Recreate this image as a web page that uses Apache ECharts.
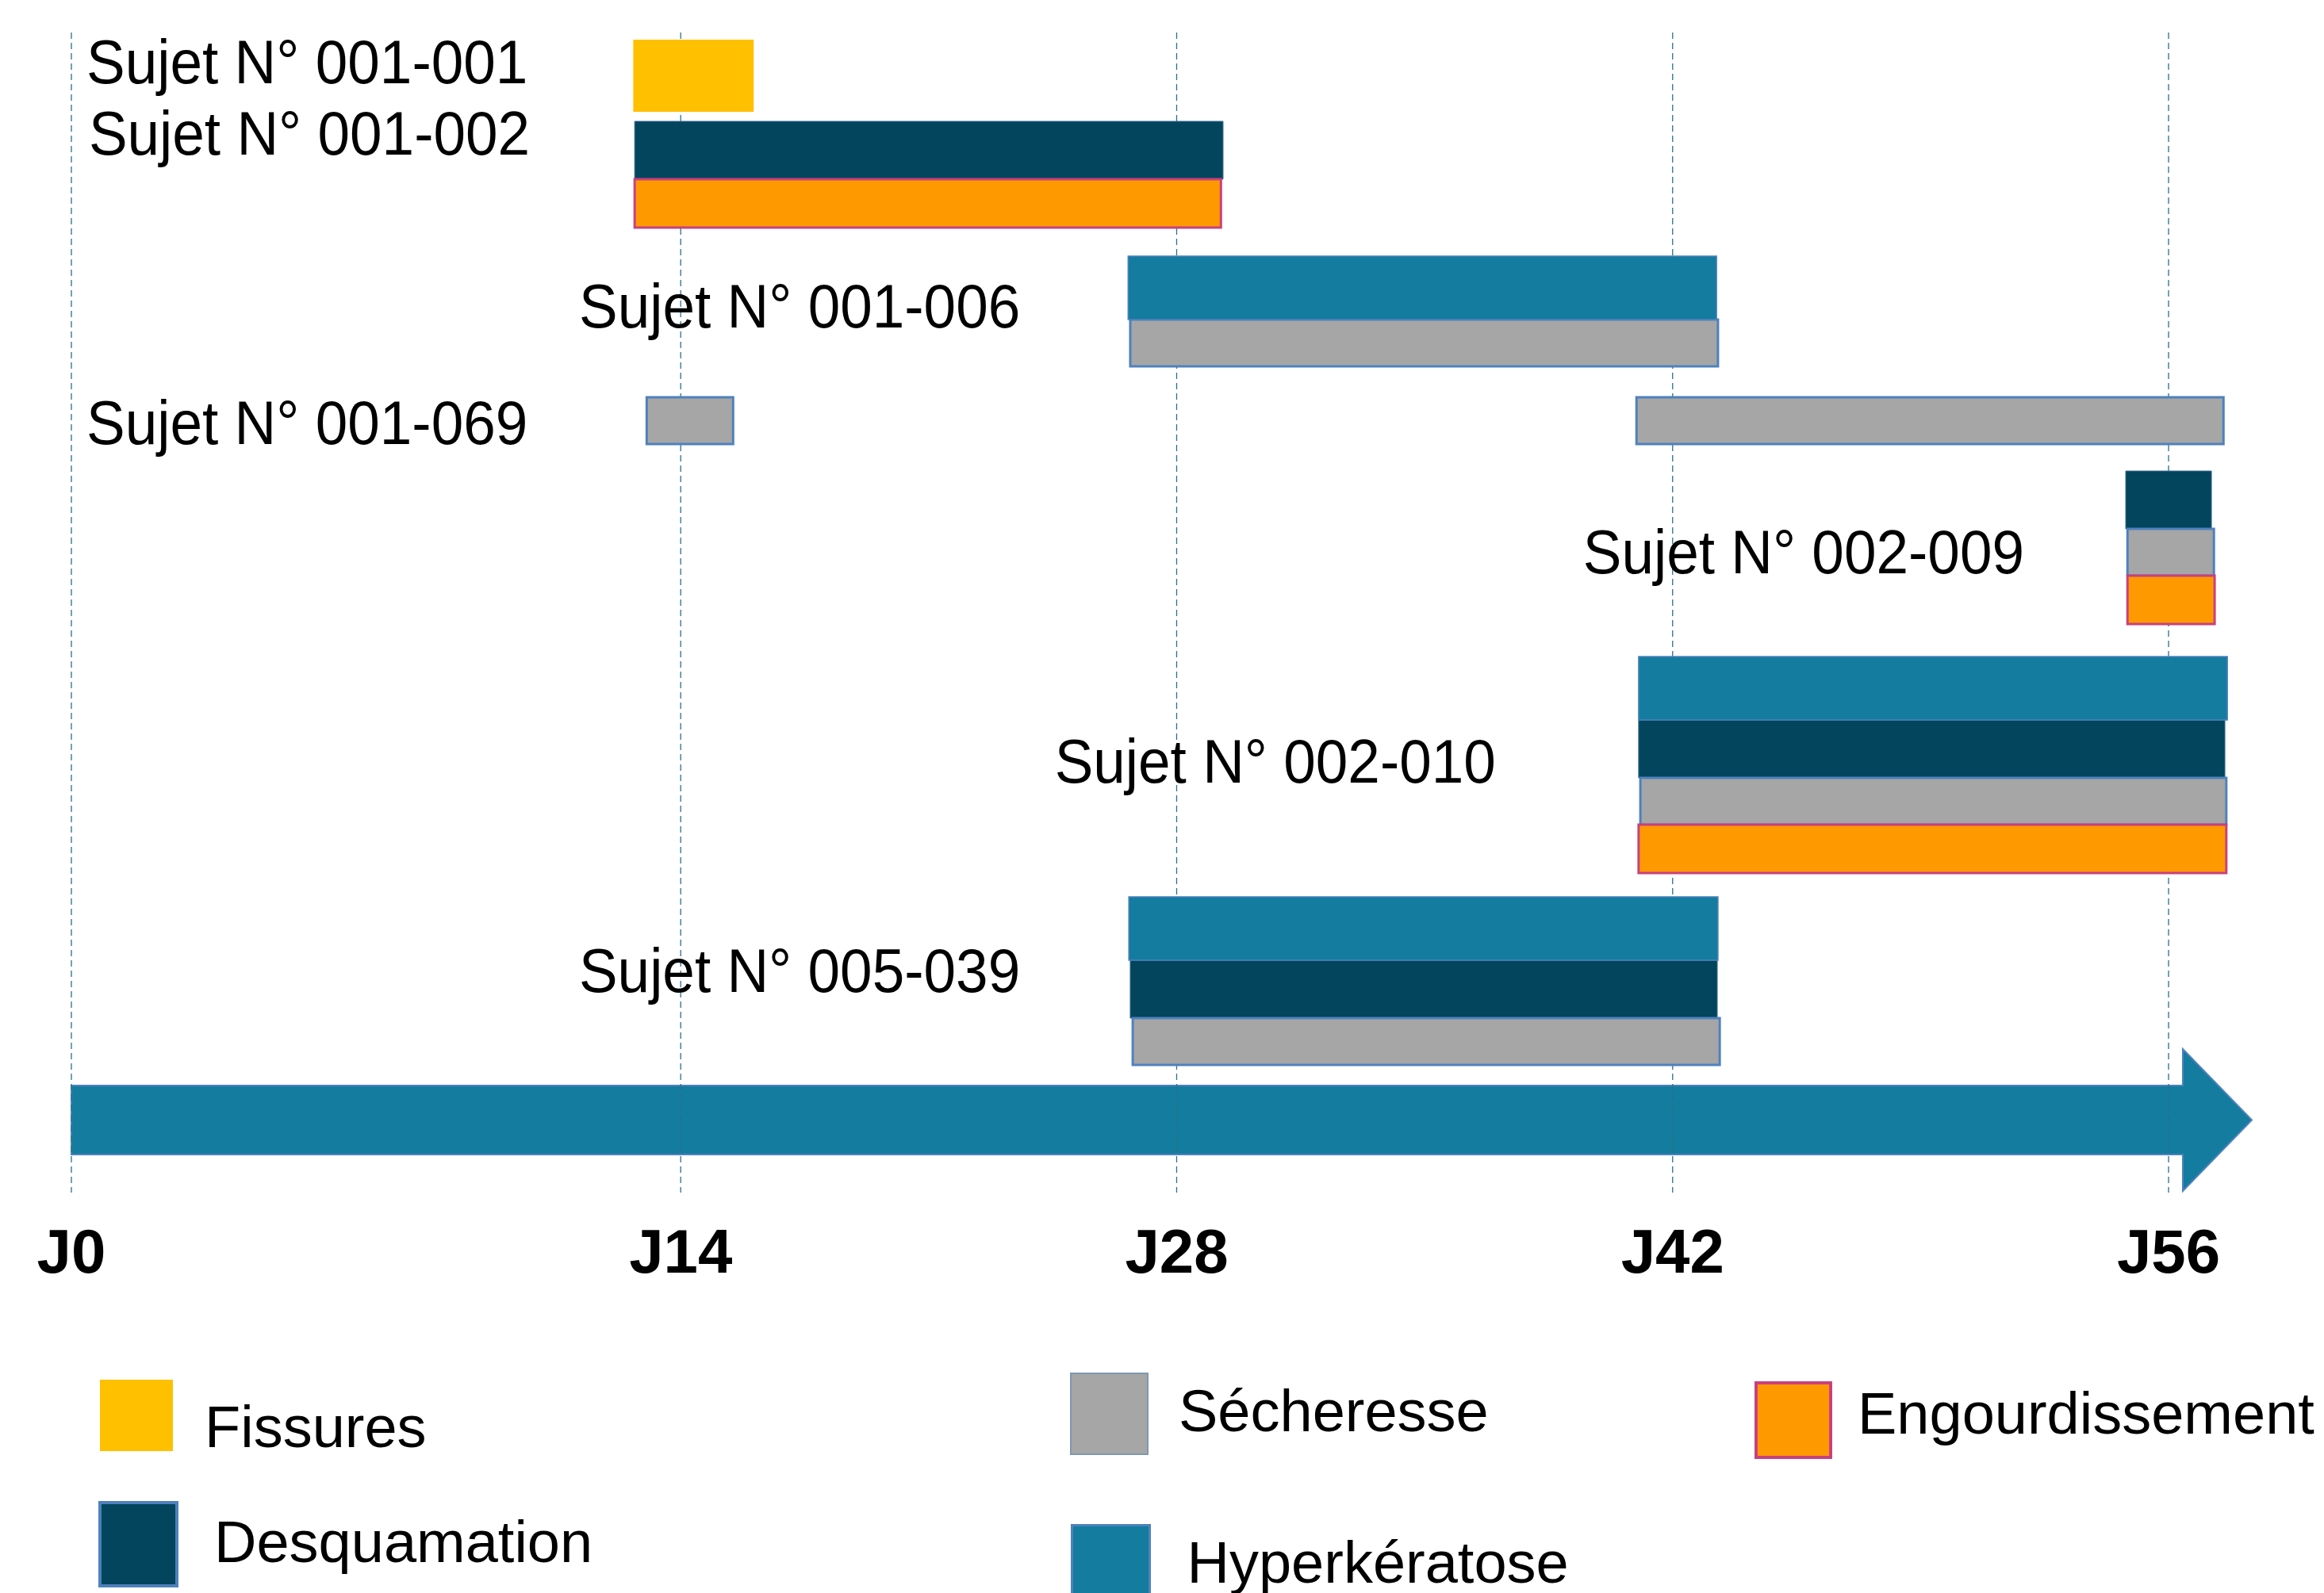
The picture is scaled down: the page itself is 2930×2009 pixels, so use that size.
<!DOCTYPE html>
<html><head><meta charset="utf-8">
<script src="https://cdn.jsdelivr.net/npm/echarts@6/dist/echarts.min.js"></script>
<style>html,body{margin:0;padding:0;background:#fff}#c{width:2930px;height:2009px}</style>
</head><body><div id="c"></div>
<script>
// ---------- DATA ----------
const tickLabels = ['J0', 'J14', 'J28', 'J42', 'J56'];
// position of each tick on the day axis (the reference draws the J0–J14 stretch wider than the others)
const tickValues = [-3.2, 14, 28, 42, 56];
const axisEnd = 58.35; // arrow tip, in days

const symptoms = ['Fissures', 'Desquamation', 'Sécheresse', 'Hyperkératose', 'Engourdissement'];
const subjects = ['Sujet N° 001-001', 'Sujet N° 001-002', 'Sujet N° 001-006', 'Sujet N° 001-069',
                  'Sujet N° 002-009', 'Sujet N° 002-010', 'Sujet N° 005-039'];

// episodes per subject: [symptom, row in subject block, start day, end day]
const sujet001_001 = [['Fissures', 0, 12.66, 16.06]];
const sujet001_002 = [['Desquamation', 0, 12.70, 29.31], ['Engourdissement', 1, 12.70, 29.25]];
const sujet001_006 = [['Hyperkératose', 0, 26.63, 43.24], ['Sécheresse', 1, 26.69, 43.28]];
const sujet001_069 = [['Sécheresse', 0, 13.04, 15.48], ['Sécheresse', 0, 40.98, 57.55]];
const sujet002_009 = [['Desquamation', 0, 54.79, 57.21], ['Sécheresse', 1, 54.84, 57.28], ['Engourdissement', 2, 54.84, 57.30]];
const sujet002_010 = [['Hyperkératose', 0, 41.04, 57.66], ['Desquamation', 1, 41.04, 57.59], ['Sécheresse', 2, 41.09, 57.63], ['Engourdissement', 3, 41.04, 57.63]];
const sujet005_039 = [['Hyperkératose', 0, 26.65, 43.28], ['Desquamation', 1, 26.69, 43.26], ['Sécheresse', 2, 26.76, 43.33]];
const episodesBySubject = [sujet001_001, sujet001_002, sujet001_006, sujet001_069, sujet002_009, sujet002_010, sujet005_039];

// ---------- STYLE / LAYOUT ----------
const FONT = "'Liberation Sans', Arial, Helvetica, sans-serif";
const symStyle = {
  'Fissures':        { fill: '#FFC000', stroke: null,      lw: 0,   th: 91 },
  'Desquamation':    { fill: '#02455C', stroke: '#3C6D99', lw: 1,   th: 73 },
  'Sécheresse':      { fill: '#A6A6A6', stroke: '#4F81BD', lw: 3,   th: 59 },
  'Hyperkératose':   { fill: '#137C9F', stroke: '#4F81BD', lw: 1.5, th: 80 },
  'Engourdissement': { fill: '#FF9900', stroke: '#C8417E', lw: 3,   th: 61 }
};
const groupGaps = [0, 12, 36, 39, 34, 41, 30];
const arrowGap = 26, arrowBody = 87, arrowHeadHalf = 89.5, arrowHeadLen = 87;
const labelGap = [133, 132, 136, 150, 128, 180, 137];
const labelDy = [-12.5, -47, -1.5, 7.5, 10.5, 0.5, -8];

// compute block layout (units = px on the y axis)
const groupTop = [], groupH = [], rowTop = [];
let cur = 0;
episodesBySubject.forEach((eps, i) => {
  cur += groupGaps[i];
  groupTop.push(cur);
  const rows = [];
  eps.forEach(e => { if (rows[e[1]] === undefined) rows[e[1]] = symStyle[e[0]].th; });
  const tops = []; let acc = 0;
  rows.forEach((h, r) => { tops[r] = acc; acc += h; });
  rowTop.push(tops); groupH.push(acc);
  cur += acc;
});
const arrowTop = cur + arrowGap;
const arrowMid = arrowTop + arrowBody / 2;

const legendLayout = {
  'Fissures':        { left: 126,  top: 1740, w: 92, h: 90,  gap: 40, bw: 0, pt: 40, pb: 0 },
  'Desquamation':    { left: 124,  top: 1893, w: 97, h: 105, gap: 47, bw: 4, bc: '#4F81BD', pt: 4, pb: 0 },
  'Sécheresse':      { left: 1349, top: 1731, w: 97, h: 102, gap: 39, bw: 2, bc: '#7F97B0', pt: 4, pb: 0 },
  'Hyperkératose':   { left: 1350, top: 1922, w: 98, h: 100, gap: 47, bw: 3, bc: '#4F81BD', pt: 4, pb: 0 },
  'Engourdissement': { left: 2212, top: 1742, w: 94, h: 94,  gap: 34, bw: 4, bc: '#C8417E', pt: 0, pb: 6 }
};

// ---------- SERIES ----------
const series = [];

// timeline arrow
series.push({
  type: 'custom', name: '_arrow', z: 1, silent: true,
  data: [[tickValues[0], axisEnd]],
  renderItem: (params, api) => {
    const x0 = api.coord([api.value(0), arrowMid])[0];
    const xt = api.coord([api.value(1), arrowMid])[0];
    const xh = xt - arrowHeadLen;
    const y = v => api.coord([0, v])[1];
    return {
      type: 'polygon',
      shape: { points: [[x0, y(arrowTop)], [xh, y(arrowTop)], [xh, y(arrowMid - arrowHeadHalf)], [xt, y(arrowMid)],
                        [xh, y(arrowMid + arrowHeadHalf)], [xh, y(arrowTop + arrowBody)], [x0, y(arrowTop + arrowBody)]] },
      style: { fill: '#137C9F', stroke: '#4F81BD', lineWidth: 2 }
    };
  }
});

// vertical grid lines
series.push({
  type: 'custom', name: '_grid', z: 2, silent: true,
  data: tickValues.map(v => [v]),
  renderItem: (params, api) => {
    const a = api.coord([api.value(0), -9]);
    const b = api.coord([api.value(0), arrowMid + arrowHeadHalf + 2]);
    return { type: 'line', shape: { x1: a[0], y1: a[1], x2: b[0], y2: b[1] },
             style: { stroke: '#2A7286', lineWidth: 1.3, lineDash: [8, 5] } };
  }
});

// symptom bars
symptoms.forEach(sym => {
  const st = symStyle[sym];
  const data = [];
  episodesBySubject.forEach((eps, si) => eps.forEach(e => { if (e[0] === sym) data.push([e[2], e[3], si, e[1]]); }));
  series.push({
    type: 'custom', name: sym, z: 3,
    itemStyle: { color: st.fill, borderColor: st.stroke || st.fill, borderWidth: st.lw },
    data: data,
    renderItem: (params, api) => {
      const si = api.value(2), r = api.value(3);
      const yt = groupTop[si] + rowTop[si][r];
      const p0 = api.coord([api.value(0), yt]);
      const p1 = api.coord([api.value(1), yt + st.th]);
      return { type: 'rect',
               shape: { x: p0[0], y: p0[1], width: p1[0] - p0[0], height: p1[1] - p0[1] },
               style: { fill: st.fill, stroke: st.stroke, lineWidth: st.lw } };
    }
  });
});

// subject labels
series.push({
  type: 'custom', name: '_labels', z: 4, silent: true,
  data: subjects.map((s, i) => [i]),
  renderItem: (params, api) => {
    const i = api.value(0);
    const firstStart = Math.min.apply(null, episodesBySubject[i].map(e => e[2]));
    const yc = groupTop[i] + groupH[i] / 2 + labelDy[i];
    const p = api.coord([firstStart, yc]);
    return { type: 'text', x: p[0] - labelGap[i], y: p[1], scaleX: 0.935,
             style: { text: subjects[i], fill: '#000', font: '78px ' + FONT, align: 'right', verticalAlign: 'middle' } };
  }
});

const legends = symptoms.map(sym => {
  const L = legendLayout[sym], st = symStyle[sym];
  return {
    data: [sym], left: L.left, top: L.top, padding: 0, itemGap: 0, icon: 'rect',
    itemWidth: L.w, itemHeight: L.h, selectedMode: false, orient: 'horizontal',
    itemStyle: { color: st.fill, borderColor: L.bc || st.fill, borderWidth: L.bw },
    formatter: '{t|{name}}',
    textStyle: {
      fontSize: 74, color: '#000', fontFamily: FONT, padding: [0, 0, 0, L.gap - 5],
      rich: { t: { fontSize: 74, color: '#000', fontFamily: FONT, padding: [L.pt, 0, L.pb, 0] } }
    }
  };
});

const chart = echarts.init(document.getElementById('c'), null, { renderer: 'canvas' });
chart.setOption({
  backgroundColor: '#ffffff',
  animation: false,
  grid: { left: 90, right: 91, top: 40, bottom: 499, containLabel: false, outerBoundsMode: 'none' },
  xAxis: {
    type: 'value', min: tickValues[0], max: axisEnd,
    axisLine: { show: false }, axisTick: { show: false }, splitLine: { show: false },
    axisLabel: {
      customValues: tickValues, showMinLabel: true, showMaxLabel: true, margin: 34,
      fontSize: 78, fontWeight: 'bold', color: '#000', fontFamily: FONT,
      formatter: v => {
        let best = 0;
        tickValues.forEach((t, i) => { if (Math.abs(t - v) < Math.abs(tickValues[best] - v)) best = i; });
        return tickLabels[best];
      }
    }
  },
  yAxis: { type: 'value', inverse: true, min: -10, max: 1460, show: false },
  legend: legends,
  series: series
});
</script>
</body></html>
